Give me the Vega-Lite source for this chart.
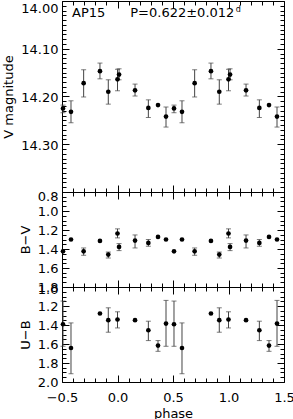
{
  "$schema": "https://vega.github.io/schema/vega-lite/v6.json",
  "background": "white",
  "padding": {"left": 2, "top": 0, "right": 10, "bottom": 2},
  "spacing": 0,
  "bounds": "flush",
  "config": {
    "view": {"stroke": "#000", "strokeWidth": 1},
    "font": "DejaVu Sans",
    "axis": {
      "domain": false, "grid": false, "tickColor": "#000", "tickWidth": 1,
      "labelFont": "DejaVu Sans", "labelFontSize": 13, "labelColor": "#000",
      "titleFont": "DejaVu Sans", "titleFontSize": 13, "titleFontWeight": "normal", "titleColor": "#000",
      "labelOverlap": false, "labelFlush": false, "labelBound": false
    }
  },
  "datasets": {
    "d": [
      {"phase": -0.491, "V": 14.225, "Vlo": 14.218, "Vhi": 14.234, "BV": 1.424, "BVlo": null, "BVhi": null, "UB": 1.392, "UBlo": 1.148, "UBhi": 1.624},
      {"phase": -0.419, "V": 14.232, "Vlo": 14.209, "Vhi": 14.255, "BV": 1.300, "BVlo": null, "BVhi": null, "UB": 1.642, "UBlo": 1.378, "UBhi": 1.913},
      {"phase": -0.305, "V": 14.172, "Vlo": 14.144, "Vhi": 14.201, "BV": 1.424, "BVlo": 1.389, "BVhi": 1.466, "UB": null, "UBlo": null, "UBhi": null},
      {"phase": -0.158, "V": 14.147, "Vlo": 14.130, "Vhi": 14.163, "BV": 1.315, "BVlo": null, "BVhi": null, "UB": 1.279, "UBlo": null, "UBhi": null},
      {"phase": -0.083, "V": 14.190, "Vlo": 14.165, "Vhi": 14.216, "BV": 1.459, "BVlo": 1.432, "BVhi": 1.495, "UB": 1.349, "UBlo": 1.219, "UBhi": 1.476},
      {"phase": 0.000, "V": 14.164, "Vlo": 14.143, "Vhi": 14.188, "BV": 1.237, "BVlo": 1.188, "BVhi": 1.283, "UB": 1.342, "UBlo": 1.261, "UBhi": 1.431},
      {"phase": 0.014, "V": 14.154, "Vlo": 14.142, "Vhi": 14.165, "BV": 1.378, "BVlo": 1.343, "BVhi": 1.417, "UB": null, "UBlo": null, "UBhi": null},
      {"phase": 0.158, "V": 14.187, "Vlo": 14.174, "Vhi": 14.199, "BV": 1.311, "BVlo": 1.252, "BVhi": 1.389, "UB": 1.349, "UBlo": null, "UBhi": null},
      {"phase": 0.278, "V": 14.224, "Vlo": 14.207, "Vhi": 14.244, "BV": 1.336, "BVlo": 1.300, "BVhi": 1.371, "UB": 1.455, "UBlo": 1.360, "UBhi": 1.564},
      {"phase": 0.365, "V": 14.218, "Vlo": null, "Vhi": null, "BV": 1.273, "BVlo": null, "BVhi": null, "UB": 1.617, "UBlo": 1.564, "UBhi": 1.677},
      {"phase": 0.437, "V": 14.242, "Vlo": 14.222, "Vhi": 14.264, "BV": 1.300, "BVlo": null, "BVhi": null, "UB": 1.385, "UBlo": 1.141, "UBhi": 1.624},
      {"phase": 0.509, "V": 14.225, "Vlo": 14.218, "Vhi": 14.234, "BV": 1.424, "BVlo": null, "BVhi": null, "UB": 1.392, "UBlo": 1.148, "UBhi": 1.624},
      {"phase": 0.581, "V": 14.232, "Vlo": 14.209, "Vhi": 14.255, "BV": 1.300, "BVlo": null, "BVhi": null, "UB": 1.642, "UBlo": 1.378, "UBhi": 1.913},
      {"phase": 0.695, "V": 14.172, "Vlo": 14.144, "Vhi": 14.201, "BV": 1.424, "BVlo": 1.389, "BVhi": 1.466, "UB": null, "UBlo": null, "UBhi": null},
      {"phase": 0.842, "V": 14.147, "Vlo": 14.130, "Vhi": 14.163, "BV": 1.315, "BVlo": null, "BVhi": null, "UB": 1.279, "UBlo": null, "UBhi": null},
      {"phase": 0.917, "V": 14.190, "Vlo": 14.165, "Vhi": 14.216, "BV": 1.459, "BVlo": 1.432, "BVhi": 1.495, "UB": 1.349, "UBlo": 1.219, "UBhi": 1.476},
      {"phase": 1.000, "V": 14.164, "Vlo": 14.143, "Vhi": 14.188, "BV": 1.237, "BVlo": 1.188, "BVhi": 1.283, "UB": 1.342, "UBlo": 1.261, "UBhi": 1.431},
      {"phase": 1.014, "V": 14.154, "Vlo": 14.142, "Vhi": 14.165, "BV": 1.378, "BVlo": 1.343, "BVhi": 1.417, "UB": null, "UBlo": null, "UBhi": null},
      {"phase": 1.158, "V": 14.187, "Vlo": 14.174, "Vhi": 14.199, "BV": 1.311, "BVlo": 1.252, "BVhi": 1.389, "UB": 1.349, "UBlo": null, "UBhi": null},
      {"phase": 1.278, "V": 14.224, "Vlo": 14.207, "Vhi": 14.244, "BV": 1.336, "BVlo": 1.300, "BVhi": 1.371, "UB": 1.455, "UBlo": 1.360, "UBhi": 1.564},
      {"phase": 1.365, "V": 14.218, "Vlo": null, "Vhi": null, "BV": 1.273, "BVlo": null, "BVhi": null, "UB": 1.617, "UBlo": 1.564, "UBhi": 1.677},
      {"phase": 1.437, "V": 14.242, "Vlo": 14.222, "Vhi": 14.264, "BV": 1.300, "BVlo": null, "BVhi": null, "UB": 1.385, "UBlo": 1.141, "UBhi": 1.624}
    ]
  },
  "data": {"name": "d"},
  "vconcat": [
    {
      "width": 222, "height": 191,
      "layer": [
        {
          "transform": [{"filter": "datum.Vlo != null"}],
          "mark": {"type": "errorbar", "ticks": {"size": 5}, "color": "#444"},
          "encoding": {
            "x": {"field": "phase", "type": "quantitative", "scale": {"domain": [-0.5, 1.5], "nice": false, "zero": false},
              "axis": {"orient": "bottom", "values": [-0.5,-0.4,-0.3,-0.2,-0.1,0,0.1,0.2,0.3,0.4,0.5,0.6,0.7,0.8,0.9,1,1.1,1.2,1.3,1.4,1.5], "labels": false, "title": null,
                "tickSize": {"condition": {"test": "abs(datum.value*2-round(datum.value*2))<0.01", "value": -7}, "value": -4}}},
            "y": {"field": "Vlo", "type": "quantitative", "scale": {"domain": [14.0, 14.4], "reverse": true, "nice": false, "zero": false},
              "axis": {"orient": "left", "title": "V magnitude", "titlePadding": 5, "labelPadding": 11,
                "values": [14,14.01,14.02,14.03,14.04,14.05,14.06,14.07,14.08,14.09,14.1,14.11,14.12,14.13,14.14,14.15,14.16,14.17,14.18,14.19,14.2,14.21,14.22,14.23,14.24,14.25,14.26,14.27,14.28,14.29,14.3,14.31,14.32,14.33,14.34,14.35,14.36,14.37,14.38,14.39,14.4],
                "labelExpr": "abs(datum.value*10-round(datum.value*10))<0.01 && datum.value<14.35 ? format(datum.value,'.2f') : ''",
                "labelOffset": {"condition": {"test": "datum.value<14.005", "value": 7}, "value": 1},
                "tickSize": {"condition": {"test": "abs(datum.value*10-round(datum.value*10))<0.01", "value": -7}, "value": -4}}},
            "y2": {"field": "Vhi"}
          }
        },
        {
          "mark": {"type": "point", "filled": true, "size": 22, "color": "#000", "opacity": 1},
          "encoding": {
            "x": {"field": "phase", "type": "quantitative", "scale": {"domain": [-0.5, 1.5], "nice": false, "zero": false},
              "axis": {"orient": "top", "values": [-0.5,-0.4,-0.3,-0.2,-0.1,0,0.1,0.2,0.3,0.4,0.5,0.6,0.7,0.8,0.9,1,1.1,1.2,1.3,1.4,1.5], "labels": false, "title": null,
                "tickSize": {"condition": {"test": "abs(datum.value*2-round(datum.value*2))<0.01", "value": -7}, "value": -4}}},
            "y": {"field": "V", "type": "quantitative", "scale": {"domain": [14.0, 14.4], "reverse": true, "nice": false, "zero": false},
              "axis": {"orient": "right", "labels": false, "title": null,
                "values": [14,14.01,14.02,14.03,14.04,14.05,14.06,14.07,14.08,14.09,14.1,14.11,14.12,14.13,14.14,14.15,14.16,14.17,14.18,14.19,14.2,14.21,14.22,14.23,14.24,14.25,14.26,14.27,14.28,14.29,14.3,14.31,14.32,14.33,14.34,14.35,14.36,14.37,14.38,14.39,14.4],
                "tickSize": {"condition": {"test": "abs(datum.value*10-round(datum.value*10))<0.01", "value": -7}, "value": -4}}}
          }
        },
        {
          "data": {"values": [{}]},
          "mark": {"type": "text", "text": "AP15", "align": "left", "baseline": "alphabetic", "font": "DejaVu Sans", "fontSize": 13, "color": "#000"},
          "encoding": {"x": {"datum": -0.41, "type": "quantitative", "axis": null}, "y": {"datum": 14.034, "type": "quantitative", "axis": null}}
        },
        {
          "data": {"values": [{}]},
          "mark": {"type": "text", "text": "P=0.622±0.012", "align": "left", "baseline": "alphabetic", "font": "DejaVu Sans", "fontSize": 13, "color": "#000"},
          "encoding": {"x": {"datum": 0.115, "type": "quantitative", "axis": null}, "y": {"datum": 14.034, "type": "quantitative", "axis": null}}
        },
        {
          "data": {"values": [{}]},
          "mark": {"type": "text", "text": "d", "align": "left", "baseline": "alphabetic", "font": "DejaVu Sans", "fontSize": 8, "color": "#000"},
          "encoding": {"x": {"datum": 1.065, "type": "quantitative", "axis": null}, "y": {"datum": 14.022, "type": "quantitative", "axis": null}}
        }
      ]
    },
    {
      "width": 222, "height": 95,
      "layer": [
        {
          "transform": [{"filter": "datum.BVlo != null"}],
          "mark": {"type": "errorbar", "ticks": {"size": 5}, "color": "#444"},
          "encoding": {
            "x": {"field": "phase", "type": "quantitative", "scale": {"domain": [-0.5, 1.5], "nice": false, "zero": false},
              "axis": {"orient": "bottom", "values": [-0.5,-0.4,-0.3,-0.2,-0.1,0,0.1,0.2,0.3,0.4,0.5,0.6,0.7,0.8,0.9,1,1.1,1.2,1.3,1.4,1.5], "labels": false, "title": null,
                "tickSize": {"condition": {"test": "abs(datum.value*2-round(datum.value*2))<0.01", "value": -7}, "value": -4}}},
            "y": {"field": "BVlo", "type": "quantitative", "scale": {"domain": [0.8, 1.8], "reverse": true, "nice": false, "zero": false},
              "axis": {"orient": "left", "title": "B−V", "titlePadding": 5, "labelPadding": 11,
                "values": [0.8,0.85,0.9,0.95,1,1.05,1.1,1.15,1.2,1.25,1.3,1.35,1.4,1.45,1.5,1.55,1.6,1.65,1.7,1.75,1.8],
                "labelExpr": "abs(datum.value*5-round(datum.value*5))<0.01 ? format(datum.value,'.1f') : ''",
                "labelOffset": {"condition": {"test": "datum.value<0.81", "value": 4}, "value": 0},
                "tickSize": {"condition": {"test": "abs(datum.value*5-round(datum.value*5))<0.01", "value": -7}, "value": -4}}},
            "y2": {"field": "BVhi"}
          }
        },
        {
          "mark": {"type": "point", "filled": true, "size": 22, "color": "#000", "opacity": 1},
          "encoding": {
            "x": {"field": "phase", "type": "quantitative", "scale": {"domain": [-0.5, 1.5], "nice": false, "zero": false},
              "axis": {"orient": "top", "values": [-0.5,-0.4,-0.3,-0.2,-0.1,0,0.1,0.2,0.3,0.4,0.5,0.6,0.7,0.8,0.9,1,1.1,1.2,1.3,1.4,1.5], "labels": false, "title": null,
                "tickSize": {"condition": {"test": "abs(datum.value*2-round(datum.value*2))<0.01", "value": -7}, "value": -4}}},
            "y": {"field": "BV", "type": "quantitative", "scale": {"domain": [0.8, 1.8], "reverse": true, "nice": false, "zero": false},
              "axis": {"orient": "right", "labels": false, "title": null,
                "values": [0.8,0.85,0.9,0.95,1,1.05,1.1,1.15,1.2,1.25,1.3,1.35,1.4,1.45,1.5,1.55,1.6,1.65,1.7,1.75,1.8],
                "tickSize": {"condition": {"test": "abs(datum.value*5-round(datum.value*5))<0.01", "value": -7}, "value": -4}}}
          }
        }
      ]
    },
    {
      "width": 222, "height": 95,
      "layer": [
        {
          "transform": [{"filter": "datum.UBlo != null"}],
          "mark": {"type": "errorbar", "ticks": {"size": 5}, "color": "#444"},
          "encoding": {
            "x": {"field": "phase", "type": "quantitative", "scale": {"domain": [-0.5, 1.5], "nice": false, "zero": false},
              "axis": {"orient": "bottom", "values": [-0.5,-0.4,-0.3,-0.2,-0.1,0,0.1,0.2,0.3,0.4,0.5,0.6,0.7,0.8,0.9,1,1.1,1.2,1.3,1.4,1.5], "title": "phase", "titlePadding": 0, "labelPadding": 16,
                "labelExpr": "abs(datum.value*2-round(datum.value*2))<0.01 ? format(datum.value,'.1f') : ''",
                "tickSize": {"condition": {"test": "abs(datum.value*2-round(datum.value*2))<0.01", "value": -7}, "value": -4}}},
            "y": {"field": "UBlo", "type": "quantitative", "scale": {"domain": [1.0, 2.0], "reverse": true, "nice": false, "zero": false},
              "axis": {"orient": "left", "title": "U−B", "titlePadding": 5, "labelPadding": 11,
                "values": [1,1.05,1.1,1.15,1.2,1.25,1.3,1.35,1.4,1.45,1.5,1.55,1.6,1.65,1.7,1.75,1.8,1.85,1.9,1.95,2],
                "labelExpr": "abs(datum.value*5-round(datum.value*5))<0.01 ? format(datum.value,'.1f') : ''",
                "labelOffset": {"condition": {"test": "datum.value<1.01", "value": 2}, "value": 0},
                "tickSize": {"condition": {"test": "abs(datum.value*5-round(datum.value*5))<0.01", "value": -7}, "value": -4}}},
            "y2": {"field": "UBhi"}
          }
        },
        {
          "transform": [{"filter": "datum.UB != null"}],
          "mark": {"type": "point", "filled": true, "size": 22, "color": "#000", "opacity": 1},
          "encoding": {
            "x": {"field": "phase", "type": "quantitative", "scale": {"domain": [-0.5, 1.5], "nice": false, "zero": false},
              "axis": {"orient": "top", "values": [-0.5,-0.4,-0.3,-0.2,-0.1,0,0.1,0.2,0.3,0.4,0.5,0.6,0.7,0.8,0.9,1,1.1,1.2,1.3,1.4,1.5], "labels": false, "title": null,
                "tickSize": {"condition": {"test": "abs(datum.value*2-round(datum.value*2))<0.01", "value": -7}, "value": -4}}},
            "y": {"field": "UB", "type": "quantitative", "scale": {"domain": [1.0, 2.0], "reverse": true, "nice": false, "zero": false},
              "axis": {"orient": "right", "labels": false, "title": null,
                "values": [1,1.05,1.1,1.15,1.2,1.25,1.3,1.35,1.4,1.45,1.5,1.55,1.6,1.65,1.7,1.75,1.8,1.85,1.9,1.95,2],
                "tickSize": {"condition": {"test": "abs(datum.value*5-round(datum.value*5))<0.01", "value": -7}, "value": -4}}}
          }
        }
      ]
    }
  ]
}
